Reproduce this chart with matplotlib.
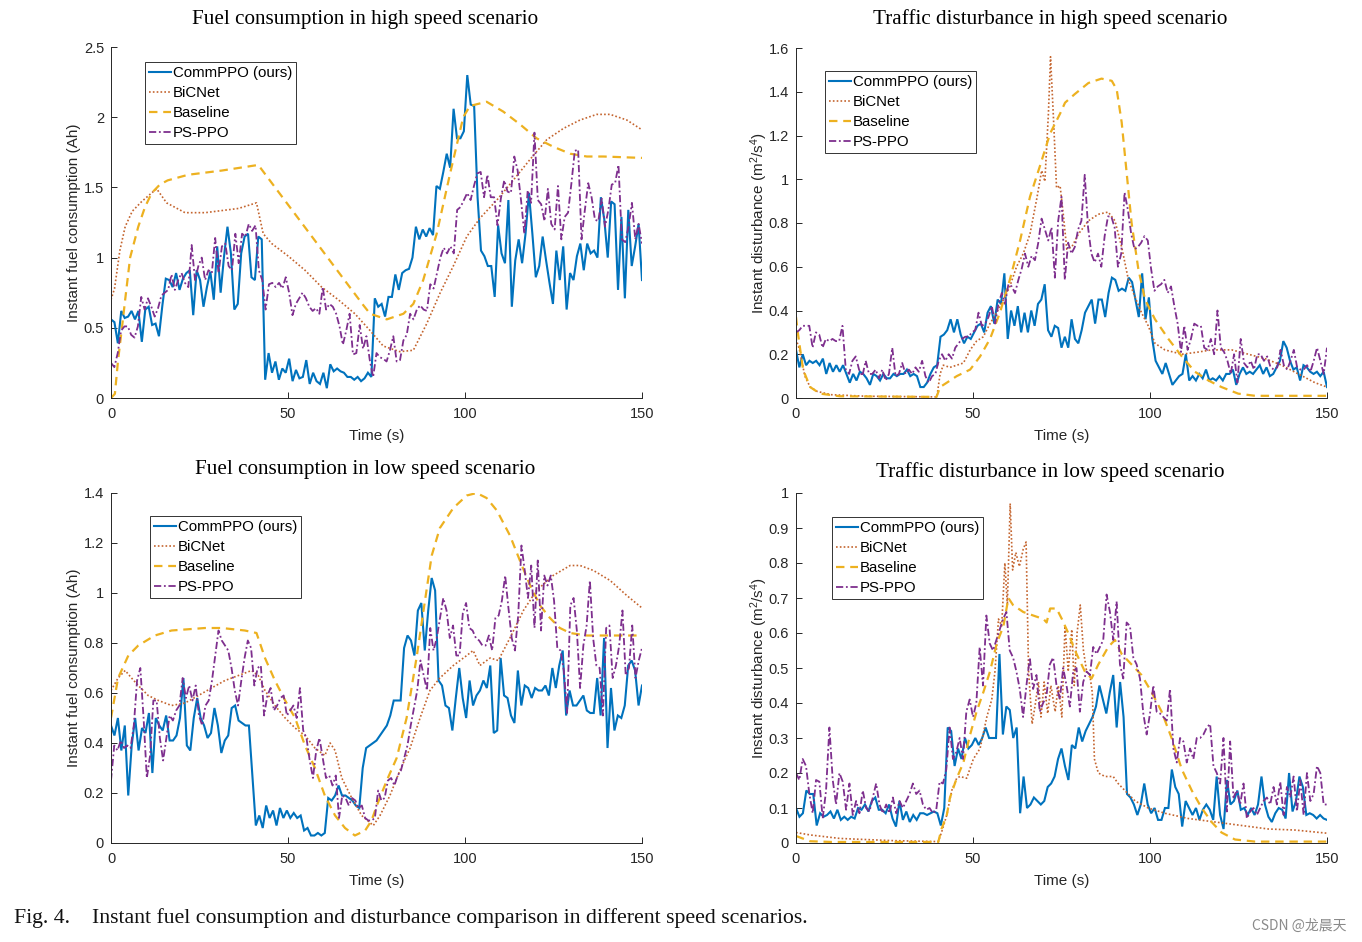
import numpy as np
import matplotlib
matplotlib.use("Agg")
import matplotlib.pyplot as plt
from matplotlib.ticker import FuncFormatter

plt.rcParams['font.family'] = ['Liberation Sans', 'DejaVu Sans']
plt.rcParams['mathtext.fontset'] = 'custom'
plt.rcParams['mathtext.rm'] = 'Liberation Sans'
plt.rcParams['mathtext.it'] = 'Liberation Sans:italic'

# ---------------- data: fuel consumption, high speed ----------------
hs_fuel_commppo = [
    0.56, 0.54, 0.39, 0.62, 0.57, 0.58, 0.62, 0.56, 0.62, 0.40,
    0.63, 0.65, 0.52, 0.53, 0.44, 0.66, 0.85, 0.84, 0.79, 0.89,
    0.77, 0.85, 0.89, 0.91, 0.59, 0.91, 0.84, 0.65, 0.79, 0.90,
    0.70, 1.08, 0.75, 1.01, 1.22, 1.03, 0.63, 0.67, 1.03, 1.15,
    1.17, 0.86, 0.84, 1.15, 1.13, 0.13, 0.32, 0.18, 0.26, 0.13,
    0.21, 0.18, 0.28, 0.12, 0.20, 0.14, 0.15, 0.27, 0.10, 0.18,
    0.12, 0.10, 0.18, 0.07, 0.24, 0.19, 0.21, 0.19, 0.18, 0.15,
    0.15, 0.13, 0.15, 0.12, 0.14, 0.18, 0.15, 0.71, 0.65,
    0.67, 0.58, 0.72, 0.72, 0.88, 0.77, 0.89, 0.91, 0.92, 1.00,
    1.22, 1.13, 1.20, 1.15, 1.21, 1.16, 1.51, 1.49, 1.61, 1.74,
    1.64, 2.06, 1.85, 1.85, 1.90, 2.30, 2.09, 2.08, 1.43, 1.05,
    1.01, 0.94, 0.94, 0.72, 1.23, 1.03, 0.96, 1.41, 0.65, 0.98,
    1.13, 0.96, 1.17, 1.46, 1.17, 0.86, 0.94, 1.15, 0.98, 0.82,
    0.67, 1.05, 0.84, 1.08, 0.63, 0.89, 0.84, 1.01, 1.10, 0.91,
    1.10, 1.03, 1.05, 1.00, 1.43, 1.27, 1.00, 1.40, 1.38, 0.77,
    1.29, 0.71, 1.34, 0.94, 1.08, 1.24, 0.84]
hs_fuel_psppo = [
    0.25, 0.22, 0.32, 0.48, 0.51, 0.51, 0.45, 0.43, 0.51, 0.72,
    0.63, 0.71, 0.65, 0.58, 0.64, 0.73, 0.75, 0.77, 0.88, 0.77,
    0.84, 0.89, 0.82, 0.79, 1.09, 0.84, 0.94, 1.00, 0.84, 0.91,
    0.89, 1.14, 0.89, 1.08, 1.10, 0.94, 0.91, 1.17, 0.96, 1.17,
    1.15, 1.24, 1.19, 1.23, 0.91, 0.84, 0.63, 0.81, 0.82, 0.79,
    0.82, 0.78, 0.86, 0.75, 0.59, 0.67, 0.71, 0.75, 0.71, 0.65,
    0.62, 0.64, 0.60, 0.79, 0.63, 0.67, 0.65, 0.60, 0.51, 0.38,
    0.48, 0.60, 0.31, 0.32, 0.52, 0.35, 0.44, 0.27,
    0.15, 0.32, 0.29, 0.28, 0.26, 0.34, 0.44, 0.26, 0.27, 0.41,
    0.45, 0.60, 0.56, 0.63, 0.66, 0.63, 0.62, 0.81, 0.78, 0.89,
    1.00, 1.07, 1.03, 1.08, 1.03, 1.34, 1.36, 1.41, 1.46, 1.41,
    1.51, 1.60, 1.61, 1.43, 1.59, 1.43, 1.43, 1.23, 1.42, 1.55,
    1.47, 1.46, 1.72, 1.62, 1.41, 1.17, 1.48, 1.39, 1.89, 1.41,
    1.38, 1.26, 1.49, 1.24, 1.20, 1.51, 1.13, 1.29, 1.32, 1.53,
    1.76, 1.77, 1.13, 1.34, 1.53, 1.43, 1.27, 1.26, 1.42, 1.22,
    1.34, 1.52, 1.53, 1.66, 1.13, 1.11, 1.22, 1.39, 1.13, 1.24,
    1.10]
hs_fuel_base_t = [0, 1.1, 2, 3, 4, 5.4, 7.7, 9.6, 11.5, 13.8, 16, 21.8, 31.3, 41.6,
                  71.3, 73.2, 77.9, 82.6, 85.4, 88.2, 92, 95.8, 99.5, 101.4, 106.1,
                  110.8, 115.5, 120.2, 124.9, 129.7, 134.4, 139.1, 150]
hs_fuel_base_v = [0, 0.03, 0.27, 0.48, 0.70, 1.00, 1.22, 1.36, 1.46, 1.52, 1.55, 1.59,
                  1.62, 1.66, 0.66, 0.60, 0.56, 0.60, 0.67, 0.84, 1.17, 1.60, 2.00,
                  2.08, 2.11, 2.04, 1.95, 1.85, 1.79, 1.74, 1.72, 1.72, 1.71]
hs_fuel_bic_t = [0, 1, 2.5, 4, 6, 8.7, 11, 12.9, 15.7, 20.9, 26.6, 36, 41.1, 43, 45.4,
                 50.1, 54.8, 59.5, 64.2, 68.9, 73.2, 76.9, 81.6, 85.4, 89.2, 93, 96.7,
                 100.5, 104.2, 109, 113.6, 118.4, 123.1, 127.8, 132.5, 137.2, 141,
                 145.7, 150]
hs_fuel_bic_v = [0.70, 0.78, 1.05, 1.22, 1.33, 1.40, 1.45, 1.49, 1.39, 1.32, 1.32, 1.35,
                 1.39, 1.17, 1.10, 1.01, 0.91, 0.79, 0.70, 0.60, 0.48, 0.37, 0.33, 0.34,
                 0.53, 0.75, 0.94, 1.15, 1.28, 1.41, 1.55, 1.70, 1.84, 1.92, 1.98, 2.02,
                 2.02, 1.98, 1.91]

# ---------------- data: disturbance, high speed ----------------
hs_dist_commppo = [
    0.22, 0.14, 0.20, 0.15, 0.17, 0.16, 0.17, 0.15, 0.18, 0.11,
    0.16, 0.12, 0.15, 0.12, 0.15, 0.11, 0.07, 0.11, 0.08, 0.12,
    0.11, 0.09, 0.06, 0.11, 0.10, 0.08, 0.11, 0.09, 0.09, 0.11,
    0.10, 0.11, 0.11, 0.13, 0.10, 0.11, 0.10, 0.05, 0.05, 0.07,
    0.11, 0.14, 0.15, 0.28, 0.29, 0.31, 0.36, 0.30, 0.36, 0.29,
    0.25, 0.28, 0.27, 0.30, 0.33, 0.34, 0.30, 0.39, 0.42, 0.34,
    0.45, 0.43, 0.57, 0.27, 0.40, 0.33, 0.42, 0.30, 0.39, 0.30,
    0.40, 0.33, 0.43, 0.45, 0.52, 0.31, 0.28, 0.33,
    0.32, 0.23, 0.28, 0.23, 0.36, 0.27, 0.25, 0.31, 0.39, 0.42,
    0.45, 0.34, 0.45, 0.45, 0.37, 0.48, 0.55, 0.54, 0.49, 0.50,
    0.49, 0.55, 0.53, 0.45, 0.37, 0.57, 0.36, 0.46, 0.27, 0.17,
    0.14, 0.11, 0.16, 0.11, 0.06, 0.08, 0.10, 0.11, 0.20, 0.08,
    0.10, 0.08, 0.11, 0.09, 0.13, 0.08, 0.09, 0.08, 0.10, 0.08,
    0.11, 0.11, 0.13, 0.06, 0.11, 0.14, 0.11, 0.12, 0.11, 0.13,
    0.15, 0.11, 0.14, 0.10, 0.11, 0.14, 0.17, 0.26, 0.23, 0.17,
    0.13, 0.14, 0.08, 0.15, 0.14, 0.12, 0.11, 0.12, 0.10, 0.12,
    0.05]
hs_dist_psppo = [
    0.30, 0.31, 0.33, 0.33, 0.33, 0.23, 0.30, 0.29, 0.23, 0.27,
    0.26, 0.27, 0.26, 0.26, 0.33, 0.13, 0.11, 0.17, 0.19, 0.13,
    0.10, 0.17, 0.11, 0.11, 0.13, 0.09, 0.13, 0.08, 0.11, 0.23,
    0.10, 0.11, 0.16, 0.11, 0.13, 0.11, 0.14, 0.12, 0.17, 0.10,
    0.07, 0.10, 0.11, 0.17, 0.20, 0.17, 0.20, 0.18, 0.23, 0.25,
    0.27, 0.28, 0.28, 0.30, 0.31, 0.39, 0.33, 0.34, 0.37, 0.42,
    0.34, 0.43, 0.48, 0.43, 0.52, 0.51, 0.48, 0.54, 0.59, 0.66,
    0.60, 0.65, 0.63, 0.71, 0.82, 0.77, 0.72, 0.78, 0.55,
    0.81, 0.92, 0.54, 0.71, 0.66, 0.69, 0.77, 0.81, 1.02, 0.78,
    0.66, 0.62, 0.66, 0.60, 0.74, 0.83, 0.83, 0.78, 0.60, 0.66,
    0.94, 0.86, 0.75, 0.68, 0.69, 0.71, 0.74, 0.72, 0.59, 0.49,
    0.51, 0.52, 0.54, 0.48, 0.51, 0.42, 0.34, 0.21, 0.33, 0.22,
    0.27, 0.34, 0.33, 0.33, 0.23, 0.22, 0.27, 0.20, 0.40, 0.23,
    0.21, 0.17, 0.11, 0.20, 0.07, 0.27, 0.16, 0.14, 0.17, 0.13,
    0.20, 0.20, 0.17, 0.19, 0.14, 0.13, 0.14, 0.22, 0.15, 0.13,
    0.17, 0.22, 0.14, 0.13, 0.13, 0.15, 0.12, 0.17, 0.23, 0.17,
    0.11, 0.23]
hs_dist_base_t = [0, 0.5, 2, 4, 6.8, 12.4, 39.7, 40.7, 42.6, 45.4, 49.2, 52, 54.8, 57.6,
                  60.4, 63.3, 66.1, 68.9, 71.8, 74.6, 76, 78.8, 82.6, 86.3, 89.2, 90.6,
                  92, 93.4, 94.8, 96.7, 98.6, 101.4, 105.2, 109, 112.7, 116.5, 120.2,
                  124.9, 129.7, 150]
hs_dist_base_v = [0.37, 0.30, 0.13, 0.05, 0.02, 0.008, 0.005, 0.05, 0.07, 0.10, 0.13,
                  0.19, 0.27, 0.39, 0.54, 0.72, 0.92, 1.06, 1.21, 1.30, 1.35, 1.39, 1.44,
                  1.46, 1.45, 1.41, 1.26, 1.03, 0.80, 0.59, 0.45, 0.36, 0.27, 0.19, 0.12,
                  0.08, 0.05, 0.02, 0.01, 0.01]
hs_dist_bic_t = [0, 1, 2.5, 4, 6, 10, 20, 39.8, 40.7, 41.6, 43.5, 45.4, 47.3, 49.2, 51,
                 52.9, 54.8, 56.7, 58.6, 60.4, 62.3, 64.2, 66.1, 68, 69.4, 70.3, 71.3,
                 71.9, 72.7, 73.6, 74.6, 75.5, 76.5, 77.9, 79.8, 82.6, 85.4, 88.2, 90.1,
                 92, 93.9, 95.8, 97.6, 99.5, 101.4, 104.2, 109, 113.6, 117.4, 123.1,
                 127.8, 132.5, 137.2, 141.9, 146.6, 150]
hs_dist_bic_v = [0.27, 0.22, 0.10, 0.05, 0.03, 0.015, 0.008, 0.005, 0.11, 0.15, 0.14,
                 0.15, 0.16, 0.22, 0.26, 0.28, 0.34, 0.39, 0.45, 0.51, 0.60, 0.66, 0.75,
                 0.91, 1.04, 0.99, 1.30, 1.56, 1.29, 0.96, 0.97, 0.84, 0.68, 0.69, 0.75,
                 0.81, 0.84, 0.85, 0.81, 0.69, 0.54, 0.46, 0.39, 0.33, 0.25, 0.22, 0.20,
                 0.21, 0.22, 0.22, 0.20, 0.18, 0.15, 0.11, 0.07, 0.05]

# ---------------- data: fuel consumption, low speed ----------------
ls_fuel_commppo = [
    0.47, 0.43, 0.50, 0.37, 0.47, 0.19, 0.39, 0.50, 0.37, 0.46,
    0.44, 0.52, 0.28, 0.50, 0.47, 0.45, 0.51, 0.41, 0.41, 0.43,
    0.50, 0.66, 0.39, 0.37, 0.50, 0.58, 0.50, 0.47, 0.42, 0.44,
    0.54, 0.47, 0.36, 0.41, 0.43, 0.54, 0.55, 0.49, 0.48, 0.47,
    0.47, 0.27, 0.07, 0.11, 0.06, 0.15, 0.10, 0.13, 0.07, 0.14,
    0.10, 0.13, 0.10, 0.12, 0.10, 0.11, 0.05, 0.06, 0.03, 0.03,
    0.04, 0.03, 0.04, 0.18, 0.17, 0.19, 0.23, 0.19, 0.19, 0.18,
    0.17, 0.15, 0.14, 0.30, 0.38, 0.39, 0.40,
    0.41, 0.43, 0.45, 0.47, 0.51, 0.57, 0.57, 0.57, 0.78, 0.83,
    0.81, 0.75, 0.93, 0.96, 0.77, 0.93, 1.06, 1.01, 0.65, 0.63,
    0.55, 0.54, 0.45, 0.58, 0.70, 0.58, 0.50, 0.65, 0.55, 0.59,
    0.61, 0.65, 0.62, 0.71, 0.44, 0.45, 0.74, 0.59, 0.58, 0.51,
    0.48, 0.69, 0.55, 0.63, 0.62, 0.58, 0.62, 0.61, 0.61, 0.63,
    0.59, 0.70, 0.62, 0.71, 0.77, 0.51, 0.61, 0.55, 0.55, 0.57,
    0.59, 0.53, 0.52, 0.52, 0.66, 0.51, 0.82, 0.38, 0.62, 0.45,
    0.51, 0.50, 0.55, 0.71, 0.73, 0.69, 0.55, 0.63]
ls_fuel_psppo = [
    0.25, 0.39, 0.37, 0.41, 0.38, 0.39, 0.38, 0.47, 0.65, 0.70,
    0.50, 0.26, 0.35, 0.57, 0.57, 0.42, 0.33, 0.42, 0.51, 0.49,
    0.53, 0.55, 0.66, 0.58, 0.63, 0.57, 0.63, 0.51, 0.47, 0.55,
    0.57, 0.65, 0.75, 0.85, 0.81, 0.79, 0.77, 0.70, 0.61, 0.55,
    0.65, 0.74, 0.81, 0.78, 0.63, 0.70, 0.71, 0.51, 0.59, 0.62,
    0.53, 0.55, 0.58, 0.59, 0.51, 0.53, 0.55, 0.50, 0.62, 0.45,
    0.42, 0.33, 0.26, 0.37, 0.42, 0.34, 0.26, 0.27, 0.23, 0.27,
    0.10, 0.19, 0.18, 0.15, 0.18, 0.17, 0.14, 0.15, 0.10, 0.09,
    0.09, 0.10, 0.21, 0.17, 0.18, 0.25, 0.26, 0.23, 0.27, 0.29,
    0.34, 0.39, 0.47, 0.54, 0.61, 0.73, 0.67, 0.61, 0.86, 0.77,
    0.82, 0.90, 0.98, 0.93, 0.82, 0.87, 0.75, 0.75, 0.92, 0.96,
    0.86, 0.85, 0.82, 0.81, 0.79, 0.79, 0.83, 0.77, 0.90, 0.91,
    0.97, 1.07, 0.94, 0.82, 0.77, 0.91, 1.19, 1.09, 0.98, 1.11,
    0.86, 1.13, 0.85, 1.07, 1.03, 1.07, 0.97, 0.78, 0.77, 0.69,
    0.52, 0.95, 0.98, 0.85, 0.62, 0.79, 0.87, 1.05, 0.82, 0.71,
    0.70, 0.51, 0.86, 0.87, 0.66, 0.71, 0.79, 0.93, 0.67, 0.70,
    0.87, 0.66, 0.73, 0.78]
ls_fuel_base_t = [0, 2, 4.9, 7.7, 12.4, 17.1, 26.6, 31.3, 37.8, 41.1, 43.5, 46.3, 49.2,
                  52, 54.8, 57.6, 60.4, 63.3, 66.1, 68.9, 71.8, 73.6, 75.1, 77.9, 80.7,
                  83.5, 86.3, 88.7, 90.6, 92.9, 96.7, 100.5, 103.3, 106.1, 109, 112.7,
                  115.5, 118.4, 121.2, 124, 126.8, 129.7, 134.4, 150]
ls_fuel_base_v = [0.50, 0.66, 0.75, 0.79, 0.83, 0.85, 0.86, 0.86, 0.85, 0.84, 0.74,
                  0.65, 0.57, 0.50, 0.39, 0.30, 0.19, 0.11, 0.06, 0.03, 0.05, 0.09, 0.15,
                  0.25, 0.34, 0.50, 0.74, 0.97, 1.15, 1.26, 1.34, 1.39, 1.40, 1.38, 1.33,
                  1.23, 1.13, 1.03, 0.95, 0.90, 0.86, 0.84, 0.83, 0.83]
ls_fuel_bic_t = [0, 2, 4, 5.8, 7.7, 10.5, 13.4, 17.1, 20.9, 24.7, 28.4, 32.2, 36, 39.7,
                 41.6, 43.5, 46.3, 49.2, 52, 54.8, 57.6, 60.4, 61.9, 63.3, 65.2, 68,
                 70.8, 74.1, 76, 78.8, 81.6, 84.5, 87.3, 90.1, 92.9, 96.7, 100.5, 102.3,
                 104.2, 107.1, 109.4, 112.7, 116.5, 120.2, 124.9, 129.7, 132.5, 136.3,
                 141, 145.7, 150]
ls_fuel_bic_v = [0.61, 0.66, 0.69, 0.66, 0.63, 0.59, 0.57, 0.55, 0.56, 0.59, 0.62,
                 0.65, 0.67, 0.69, 0.67, 0.61, 0.55, 0.50, 0.46, 0.43, 0.38, 0.35, 0.40,
                 0.37, 0.26, 0.18, 0.11, 0.07, 0.11, 0.19, 0.29, 0.38, 0.50, 0.61, 0.66,
                 0.71, 0.75, 0.77, 0.71, 0.74, 0.73, 0.82, 0.93, 1.01, 1.07, 1.11, 1.11,
                 1.09, 1.05, 0.99, 0.94]

# ---------------- data: disturbance, low speed ----------------
ls_dist_commppo = [
    0.10, 0.075, 0.085, 0.15, 0.14, 0.14, 0.05, 0.085, 0.075, 0.08,
    0.09, 0.07, 0.095, 0.066, 0.075, 0.066, 0.075, 0.07, 0.10, 0.095,
    0.11, 0.09, 0.12, 0.13, 0.095, 0.095, 0.085, 0.11, 0.07, 0.047,
    0.12, 0.066, 0.09, 0.06, 0.08, 0.066, 0.085, 0.085, 0.08, 0.085,
    0.09, 0.085, 0.05, 0.10, 0.33, 0.32, 0.22, 0.27, 0.24, 0.30,
    0.27, 0.28, 0.30, 0.28, 0.30, 0.33, 0.30, 0.30, 0.30, 0.54,
    0.31, 0.39, 0.38, 0.30, 0.33, 0.085, 0.19, 0.10, 0.11, 0.13,
    0.12, 0.11, 0.12, 0.16, 0.17, 0.19, 0.24, 0.27,
    0.22, 0.18, 0.28, 0.27, 0.33, 0.29, 0.32, 0.34, 0.36, 0.39,
    0.45, 0.41, 0.37, 0.43, 0.48, 0.33, 0.46, 0.36, 0.14, 0.13,
    0.11, 0.08, 0.11, 0.17, 0.11, 0.085, 0.10, 0.066, 0.066, 0.10,
    0.10, 0.21, 0.16, 0.14, 0.047, 0.12, 0.10, 0.08, 0.10, 0.066,
    0.095, 0.11, 0.095, 0.066, 0.19, 0.08, 0.04, 0.18, 0.11, 0.12,
    0.15, 0.095, 0.10, 0.08, 0.10, 0.08, 0.11, 0.19, 0.11, 0.075,
    0.06, 0.085, 0.10, 0.095, 0.07, 0.20, 0.09, 0.12, 0.19, 0.16,
    0.08, 0.085, 0.08, 0.07, 0.08, 0.07, 0.066]
ls_dist_psppo = [
    0.20, 0.18, 0.24, 0.22, 0.14, 0.085, 0.18, 0.175, 0.07, 0.15,
    0.33, 0.18, 0.11, 0.20, 0.175, 0.095, 0.17, 0.08, 0.12, 0.085,
    0.15, 0.10, 0.09, 0.13, 0.17, 0.11, 0.085, 0.11, 0.085, 0.13,
    0.085, 0.12, 0.10, 0.12, 0.14, 0.17, 0.14, 0.15, 0.11, 0.095,
    0.10, 0.085, 0.095, 0.175, 0.17, 0.21, 0.33, 0.24, 0.26, 0.30,
    0.24, 0.375, 0.41, 0.36, 0.40, 0.56, 0.45, 0.65, 0.57, 0.55,
    0.58, 0.61, 0.64, 0.66, 0.55, 0.53, 0.49, 0.44, 0.36, 0.45,
    0.53, 0.44, 0.48, 0.375, 0.40, 0.42, 0.51, 0.53,
    0.45, 0.41, 0.50, 0.45, 0.39, 0.49, 0.50, 0.375, 0.46, 0.49,
    0.48, 0.56, 0.54, 0.56, 0.58, 0.71, 0.66, 0.58, 0.69, 0.51,
    0.47, 0.63, 0.62, 0.53, 0.51, 0.47, 0.37, 0.31, 0.37, 0.45,
    0.375, 0.37, 0.36, 0.35, 0.44, 0.27, 0.23, 0.30, 0.29, 0.23,
    0.27, 0.24, 0.30, 0.30, 0.31, 0.33, 0.34, 0.22, 0.20, 0.17,
    0.30, 0.09, 0.29, 0.13, 0.15, 0.11, 0.17, 0.07, 0.09, 0.10,
    0.08, 0.10, 0.12, 0.13, 0.11, 0.16, 0.11, 0.175, 0.08, 0.16,
    0.13, 0.19, 0.09, 0.18, 0.08, 0.20, 0.12, 0.14, 0.22, 0.20,
    0.11, 0.11]
ls_dist_base_t = [0, 4, 10, 40.2, 41.1, 42.6, 43.5, 45.4, 47.3, 49.2, 51, 52.9, 54.8,
                  56.7, 58.6, 60, 61.3, 64.2, 67, 69.9, 70.8, 71.8, 73.6, 75.1, 76.9,
                  78.8, 81.6, 83.5, 85.4, 88.2, 90.1, 92, 94.8, 97.6, 100.5, 103.3,
                  106.1, 109, 111.8, 114.6, 117.4, 120.2, 124, 129.7, 150]
ls_dist_base_v = [0.02, 0.005, 0.003, 0.003, 0.04, 0.08, 0.13, 0.185, 0.23, 0.31, 0.375,
                  0.43, 0.49, 0.57, 0.62, 0.70, 0.68, 0.66, 0.65, 0.64, 0.63, 0.67, 0.67,
                  0.64, 0.60, 0.55, 0.49, 0.47, 0.51, 0.56, 0.58, 0.54, 0.51, 0.48, 0.43,
                  0.375, 0.30, 0.21, 0.15, 0.10, 0.06, 0.03, 0.01, 0.004, 0.004]
ls_dist_bic_t = [0, 4, 12.4, 26.6, 40.2, 41.1, 42.6, 44, 45.4, 46.3, 48.2, 50.1, 52,
                 53.9, 55.3, 56.2, 57.2, 58.1, 59, 59.7, 60.5, 61.2, 62.1, 63.1, 64.2,
                 65, 65.7, 66.7, 67.5, 68.5, 69.2, 70.1, 71.1, 72, 73.2, 74.1, 75.1, 76,
                 76.9, 77.9, 78.6, 79.4, 80.3, 81.2, 82.1, 83, 83.7, 84.3, 85.4, 87.3,
                 89.6, 91, 92.9, 95.8, 99.5, 104.2, 110.8, 118.4, 125.9, 133.4, 141, 150]
ls_dist_bic_v = [0.03, 0.023, 0.013, 0.007, 0.004, 0.03, 0.08, 0.15, 0.185, 0.19, 0.185,
                 0.24, 0.27, 0.36, 0.41, 0.49, 0.64, 0.62, 0.80, 0.68, 0.97, 0.78, 0.83,
                 0.79, 0.84, 0.86, 0.49, 0.34, 0.39, 0.46, 0.36, 0.46, 0.37, 0.45, 0.375,
                 0.45, 0.36, 0.62, 0.49, 0.61, 0.45, 0.60, 0.68, 0.55, 0.49, 0.48, 0.43,
                 0.24, 0.20, 0.19, 0.19, 0.17, 0.15, 0.12, 0.10, 0.085, 0.07, 0.06, 0.05,
                 0.04, 0.037, 0.028]

series_labels = ['CommPPO (ours)', 'BiCNet', 'Baseline', 'PS-PPO']
titles = ['Fuel consumption in high speed scenario',
          'Traffic disturbance in high speed scenario',
          'Fuel consumption in low speed scenario',
          'Traffic disturbance in low speed scenario']
ylabels = ['Instant fuel consumption (Ah)',
           'Instant disturbance (m$^2$/s$^4$)',
           'Instant fuel consumption (Ah)',
           'Instant disturbance (m$^2$/s$^4$)']
xticks = [0, 50, 100, 150]
yticks_list = [[0, 0.5, 1, 1.5, 2, 2.5],
               [0, 0.2, 0.4, 0.6, 0.8, 1.0, 1.2, 1.4, 1.6],
               [0, 0.2, 0.4, 0.6, 0.8, 1.0, 1.2, 1.4],
               [0, 0.1, 0.2, 0.3, 0.4, 0.5, 0.6, 0.7, 0.8, 0.9, 1.0]]

# ---------------- figure ----------------
W, H = 1362, 942
fig = plt.figure(figsize=(W / 100, H / 100), dpi=100)

def rect(l, r, top, bot):
    return [l / W, 1 - bot / H, (r - l) / W, (bot - top) / H]

rects = [rect(111, 642, 47, 398), rect(796, 1327, 48, 398),
         rect(111, 642, 493, 843), rect(796, 1327, 493, 843)]
legend_anchor = [(0.064, 0.957), (0.055, 0.934), (0.073, 0.934), (0.068, 0.931)]
title_pads = [16.5, 17.0, 13.5, 11.5]
ylabel_pads = [2, -1, 2, -1]

C_BLUE = '#0072BD'
C_BROWN = '#C4642E'
C_YELLOW = '#EDB120'
C_PURPLE = '#7E2F8E'
AX_COL = '#262626'

panels = [
    (hs_fuel_commppo, hs_fuel_bic_t, hs_fuel_bic_v, hs_fuel_base_t, hs_fuel_base_v, hs_fuel_psppo),
    (hs_dist_commppo, hs_dist_bic_t, hs_dist_bic_v, hs_dist_base_t, hs_dist_base_v, hs_dist_psppo),
    (ls_fuel_commppo, ls_fuel_bic_t, ls_fuel_bic_v, ls_fuel_base_t, ls_fuel_base_v, ls_fuel_psppo),
    (ls_dist_commppo, ls_dist_bic_t, ls_dist_bic_v, ls_dist_base_t, ls_dist_base_v, ls_dist_psppo),
]

fmt = FuncFormatter(lambda v, p: '%g' % v)

for i, (comm, bic_t, bic_v, base_t, base_v, ps) in enumerate(panels):
    ax = fig.add_axes(rects[i])
    t_comm = np.linspace(0, 150, len(comm))
    t_ps = np.linspace(0, 150, len(ps))
    l1, = ax.plot(t_comm, comm, color=C_BLUE, lw=1.5, solid_joinstyle='miter')
    l2, = ax.plot(bic_t, bic_v, color=C_BROWN, lw=1.2, linestyle=(0, (1, 1.3)))
    l3, = ax.plot(base_t, base_v, color=C_YELLOW, lw=1.6, linestyle=(0, (3.8, 2.6)))
    l4, = ax.plot(t_ps, ps, color=C_PURPLE, lw=1.3, linestyle=(0, (4, 1.5, 1, 1.5)))
    yt = yticks_list[i]
    ax.set_xlim(0, 150)
    ax.set_ylim(yt[0], yt[-1])
    ax.set_xticks(xticks)
    ax.set_yticks(yt)
    ax.xaxis.set_major_formatter(fmt)
    ax.yaxis.set_major_formatter(fmt)
    for s in ['top', 'right']:
        ax.spines[s].set_visible(False)
    for s in ['left', 'bottom']:
        ax.spines[s].set_color(AX_COL)
        ax.spines[s].set_linewidth(0.7)
    ax.tick_params(direction='in', length=4, width=0.7, colors=AX_COL,
                   labelsize=10.5, pad=5)
    ax.tick_params(axis='x', pad=6.5)
    ax.set_xlabel('Time (s)', fontsize=11, color=AX_COL, labelpad=5.5)
    ax.set_ylabel(ylabels[i], fontsize=11, color=AX_COL, labelpad=ylabel_pads[i])
    ax.set_title(titles[i], fontsize=15.2, family='Liberation Serif',
                 pad=title_pads[i], color='black', x=0.479)
    leg = ax.legend([l1, l2, l3, l4], series_labels, loc='upper left',
                    bbox_to_anchor=legend_anchor[i], borderaxespad=0,
                    fontsize=10.8, handlelength=1.5, handletextpad=0.1,
                    labelspacing=0.4, borderpad=0.25, fancybox=False,
                    framealpha=1, edgecolor='#333333')
    leg.get_frame().set_linewidth(0.7)

fig.text(14 / W, 1 - 918 / H,
         'Fig. 4.    Instant fuel consumption and disturbance comparison in different speed scenarios.',
         family='Liberation Serif', fontsize=15.7, va='center', ha='left', color='#111111')
fig.text(1346 / W, 1 - 926 / H, 'CSDN @龙晨天', family=['Noto Sans CJK SC', 'DejaVu Sans'],
         fontsize=10, va='center', ha='right', color='#8a8a8a')

fig.savefig('out.png', dpi=100)
